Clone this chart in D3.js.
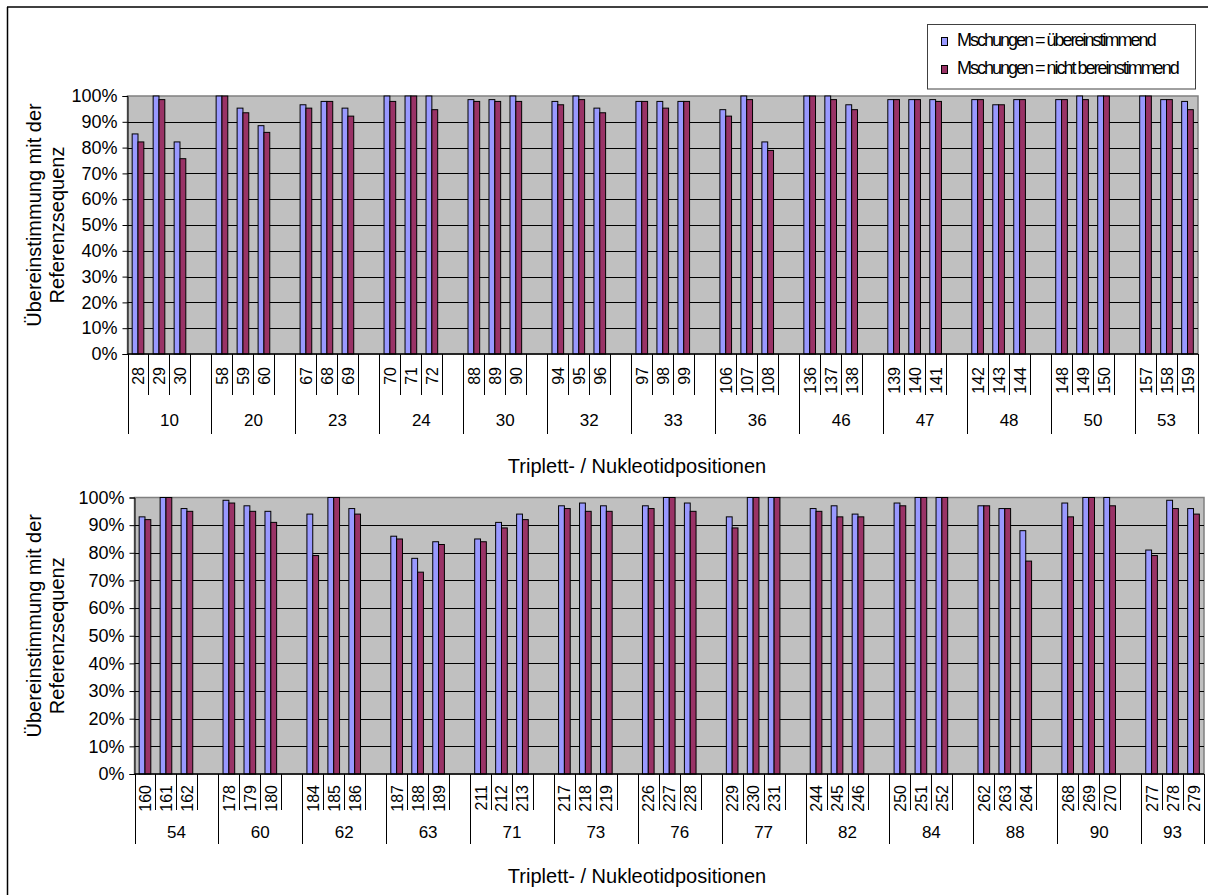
<!DOCTYPE html>
<html>
<head>
<meta charset="utf-8">
<script src="https://cdn.jsdelivr.net/npm/d3@7"></script>
<style>
  html, body { margin: 0; padding: 0; background: #fff; }
  svg { display: block; font-family: "Liberation Sans", Arial, sans-serif; }
</style>
</head>
<body>
<svg id="chart" width="1213" height="895"></svg>
<script>
// Series names shown in the legend
const seriesNames = ["Mschungen = übereinstimmend", "Mschungen = nicht bereinstimmend"];
const seriesColors = ["#9999FF", "#993366"];
const yTicks = [0, 10, 20, 30, 40, 50, 60, 70, 80, 90, 100];
const axisTitleX = "Triplett- / Nukleotidpositionen";
const axisTitleY = ["Übereinstimmung mit der", "Referenzsequenz"];

// Upper panel: triplet positions and the three nucleotide positions of each
const tripletsA = ["10", "20", "23", "24", "30", "32", "33", "36", "46", "47", "48", "50", "53"];
const nucleotidesA = [
  [28, 29, 30], [58, 59, 60], [67, 68, 69], [70, 71, 72], [88, 89, 90], [94, 95, 96],
  [97, 98, 99], [106, 107, 108], [136, 137, 138], [139, 140, 141], [142, 143, 144],
  [148, 149, 150], [157, 158, 159]
];
// Agreement (%) when mixtures are counted as matching
const matchA = [
  85.3, 100, 82.2, 100, 95.3, 88.5, 96.6, 97.9, 95.3, 100, 100, 100,
  98.6, 98.6, 100, 97.9, 100, 95.3, 97.9, 97.9, 97.9, 94.7, 100, 82.2,
  100, 100, 96.6, 98.6, 98.6, 98.6, 98.6, 96.6, 98.6, 98.6, 100, 100,
  100, 98.6, 97.9
];
// Agreement (%) when mixtures are counted as not matching
const mismatchA = [
  82.2, 98.6, 75.7, 100, 93.5, 85.9, 95.3, 97.9, 92.2, 97.9, 100, 94.7,
  97.9, 97.9, 97.9, 96.6, 98.6, 93.5, 97.9, 95.3, 97.9, 92.2, 98.6, 78.9,
  100, 98.6, 94.7, 98.6, 98.6, 97.9, 98.6, 96.6, 98.6, 98.6, 98.6, 100,
  100, 98.6, 94.7
];

// Lower panel
const tripletsB = ["54", "60", "62", "63", "71", "73", "76", "77", "82", "84", "88", "90", "93"];
const nucleotidesB = [
  [160, 161, 162], [178, 179, 180], [184, 185, 186], [187, 188, 189], [211, 212, 213],
  [217, 218, 219], [226, 227, 228], [229, 230, 231], [244, 245, 246], [250, 251, 252],
  [262, 263, 264], [268, 269, 270], [277, 278, 279]
];
const matchB = [
  93, 100, 96, 99, 97, 95, 94, 100, 96, 86, 78, 84,
  85, 91, 94, 97, 98, 97, 97, 100, 98, 93, 100, 100,
  96, 97, 94, 98, 100, 100, 97, 96, 88, 98, 100, 100,
  81, 99, 96
];
const mismatchB = [
  92, 100, 95, 98, 95, 91, 79, 100, 94, 85, 73, 83,
  84, 89, 92, 96, 95, 95, 96, 100, 95, 89, 100, 100,
  95, 93, 93, 97, 100, 100, 97, 96, 77, 93, 100, 97,
  79, 96, 94
];

const svg = d3.select("#chart");

// outer frame edges (top and left)
svg.append("line").attr("x1", 7).attr("x2", 1208).attr("y1", 7).attr("y2", 7)
  .attr("stroke", "#000").attr("stroke-width", 1.5);
svg.append("line").attr("x1", 7.5).attr("x2", 7.5).attr("y1", 7).attr("y2", 895)
  .attr("stroke", "#000").attr("stroke-width", 1.5);

function drawPanel(cfg) {
  const { left, right, top, bottom, triplets, nucleotides, match, mismatch } = cfg;
  const g = svg.append("g");

  // one slot per nucleotide position, plus an empty slot between triplets
  const slots = [];
  const rows = [];
  let k = 0;
  triplets.forEach((t, i) => {
    nucleotides[i].forEach(p => {
      const key = t + "|" + p;
      slots.push(key);
      rows.push({ key, label: String(p), values: [match[k], mismatch[k]] });
      k++;
    });
    if (i < triplets.length - 1) slots.push(t + "|gap");
  });

  const x = d3.scaleBand().domain(slots).range([left, right]).padding(0);
  const xs = d3.scaleBand().domain([0, 1]).range([0, x.bandwidth()])
    .paddingInner(0).paddingOuter(0.8);
  const y = d3.scaleLinear().domain([0, 100]).range([bottom, top]);

  // plot area
  g.append("rect").attr("x", left).attr("y", top)
    .attr("width", right - left).attr("height", bottom - top)
    .attr("fill", "#C0C0C0").attr("stroke", "#808080").attr("stroke-width", 1.5);

  // gridlines
  g.selectAll("line.grid").data(yTicks.filter(v => v > 0 && v < 100)).join("line")
    .attr("class", "grid")
    .attr("x1", left).attr("x2", right)
    .attr("y1", d => Math.round(y(d)) + 0.5).attr("y2", d => Math.round(y(d)) + 0.5)
    .attr("stroke", "#000").attr("stroke-width", 1);

  // bars
  const grp = g.selectAll("g.slot").data(rows).join("g")
    .attr("class", "slot")
    .attr("transform", d => `translate(${x(d.key)},0)`);
  grp.selectAll("rect").data(d => d.values.map((v, i) => ({ v, i }))).join("rect")
    .attr("x", d => xs(d.i))
    .attr("y", d => y(d.v))
    .attr("width", xs.bandwidth())
    .attr("height", d => bottom - y(d.v))
    .attr("fill", d => seriesColors[d.i])
    .attr("stroke", "#000").attr("stroke-width", 1);

  // y axis
  const yAxis = d3.axisLeft(y).tickValues(yTicks).tickFormat(d => d + "%")
    .tickSize(5).tickPadding(5);
  const ya = g.append("g").attr("transform", `translate(${left},0)`).call(yAxis);
  ya.select(".domain").attr("stroke", "#000");
  ya.selectAll(".tick line").attr("stroke", "#000");
  ya.selectAll(".tick text").attr("font-size", 18).attr("fill", "#000")
    .attr("font-family", "Liberation Sans, Arial, sans-serif");

  // x axis line
  g.append("line").attr("x1", left).attr("x2", right)
    .attr("y1", bottom).attr("y2", bottom).attr("stroke", "#000").attr("stroke-width", 1.5);

  // slot boundary ticks
  const bounds = slots.map(s => x(s)).concat([right]);
  g.selectAll("line.stick").data(bounds).join("line")
    .attr("class", "stick")
    .attr("x1", d => Math.round(d) + 0.5).attr("x2", d => Math.round(d) + 0.5)
    .attr("y1", bottom).attr("y2", cfg.slotTickEnd)
    .attr("stroke", "#000").attr("stroke-width", 1);

  // nucleotide labels (rotated)
  g.selectAll("text.nlab").data(rows).join("text")
    .attr("class", "nlab")
    .attr("transform", d => `translate(${x(d.key) + x.bandwidth() / 2 + 6},${cfg.slotLabelTop}) rotate(-90)`)
    .attr("text-anchor", "end")
    .attr("font-size", 16)
    .attr("fill", "#000")
    .text(d => d.label);

  // triplet group ticks and labels
  const groupSpans = triplets.map((t, i) => {
    const first = x(t + "|" + nucleotides[i][0]);
    const last = i < triplets.length - 1 ? x(t + "|gap") + x.bandwidth() : right;
    return { t, x0: first, x1: last };
  });
  const gb = groupSpans.map(s => s.x0).concat([right]);
  g.selectAll("line.gtick").data(gb).join("line")
    .attr("class", "gtick")
    .attr("x1", d => Math.round(d) + 0.5).attr("x2", d => Math.round(d) + 0.5)
    .attr("y1", bottom).attr("y2", cfg.groupTickEnd)
    .attr("stroke", "#000").attr("stroke-width", 1);
  g.selectAll("text.glab").data(groupSpans).join("text")
    .attr("class", "glab")
    .attr("x", d => (d.x0 + d.x1) / 2)
    .attr("y", cfg.groupLabelY)
    .attr("text-anchor", "middle")
    .attr("font-size", 17)
    .attr("fill", "#000")
    .text(d => d.t);

  // axis titles
  g.append("text")
    .attr("x", cfg.titleX).attr("y", cfg.titleY)
    .attr("text-anchor", "middle").attr("font-size", 20).attr("fill", "#000")
    .text(axisTitleX);
  const cy = (top + bottom) / 2;
  g.append("text")
    .attr("transform", `translate(41,${cy - 10}) rotate(-90)`)
    .attr("text-anchor", "middle").attr("font-size", 20).attr("fill", "#000")
    .text(axisTitleY[0]);
  g.append("text")
    .attr("transform", `translate(64,${cy}) rotate(-90)`)
    .attr("text-anchor", "middle").attr("font-size", 20).attr("fill", "#000")
    .text(axisTitleY[1]);
}

drawPanel({
  left: 127.5, right: 1198, top: 96, bottom: 354,
  triplets: tripletsA, nucleotides: nucleotidesA, match: matchA, mismatch: mismatchA,
  slotTickEnd: 395, slotLabelTop: 367, groupTickEnd: 434, groupLabelY: 426,
  titleX: 637, titleY: 473
});

drawPanel({
  left: 134.5, right: 1204, top: 497.5, bottom: 774,
  triplets: tripletsB, nucleotides: nucleotidesB, match: matchB, mismatch: mismatchB,
  slotTickEnd: 810, slotLabelTop: 785, groupTickEnd: 844, groupLabelY: 838,
  titleX: 637, titleY: 883
});

// legend
const lg = svg.append("g");
lg.append("rect").attr("x", 927.5).attr("y", 24.5).attr("width", 268).attr("height", 64.5)
  .attr("fill", "#fff").attr("stroke", "#404040").attr("stroke-width", 1);
seriesNames.forEach((name, i) => {
  const yy = 46 + i * 28;
  lg.append("rect").attr("x", 941.5).attr("y", yy - 8.5).attr("width", 6).attr("height", 8)
    .attr("fill", seriesColors[i]).attr("stroke", "#000").attr("stroke-width", 1);
  lg.append("text").attr("x", 957).attr("y", yy)
    .attr("font-size", 18).attr("letter-spacing", -2).attr("fill", "#000")
    .text(name);
});
</script>
</body>
</html>
